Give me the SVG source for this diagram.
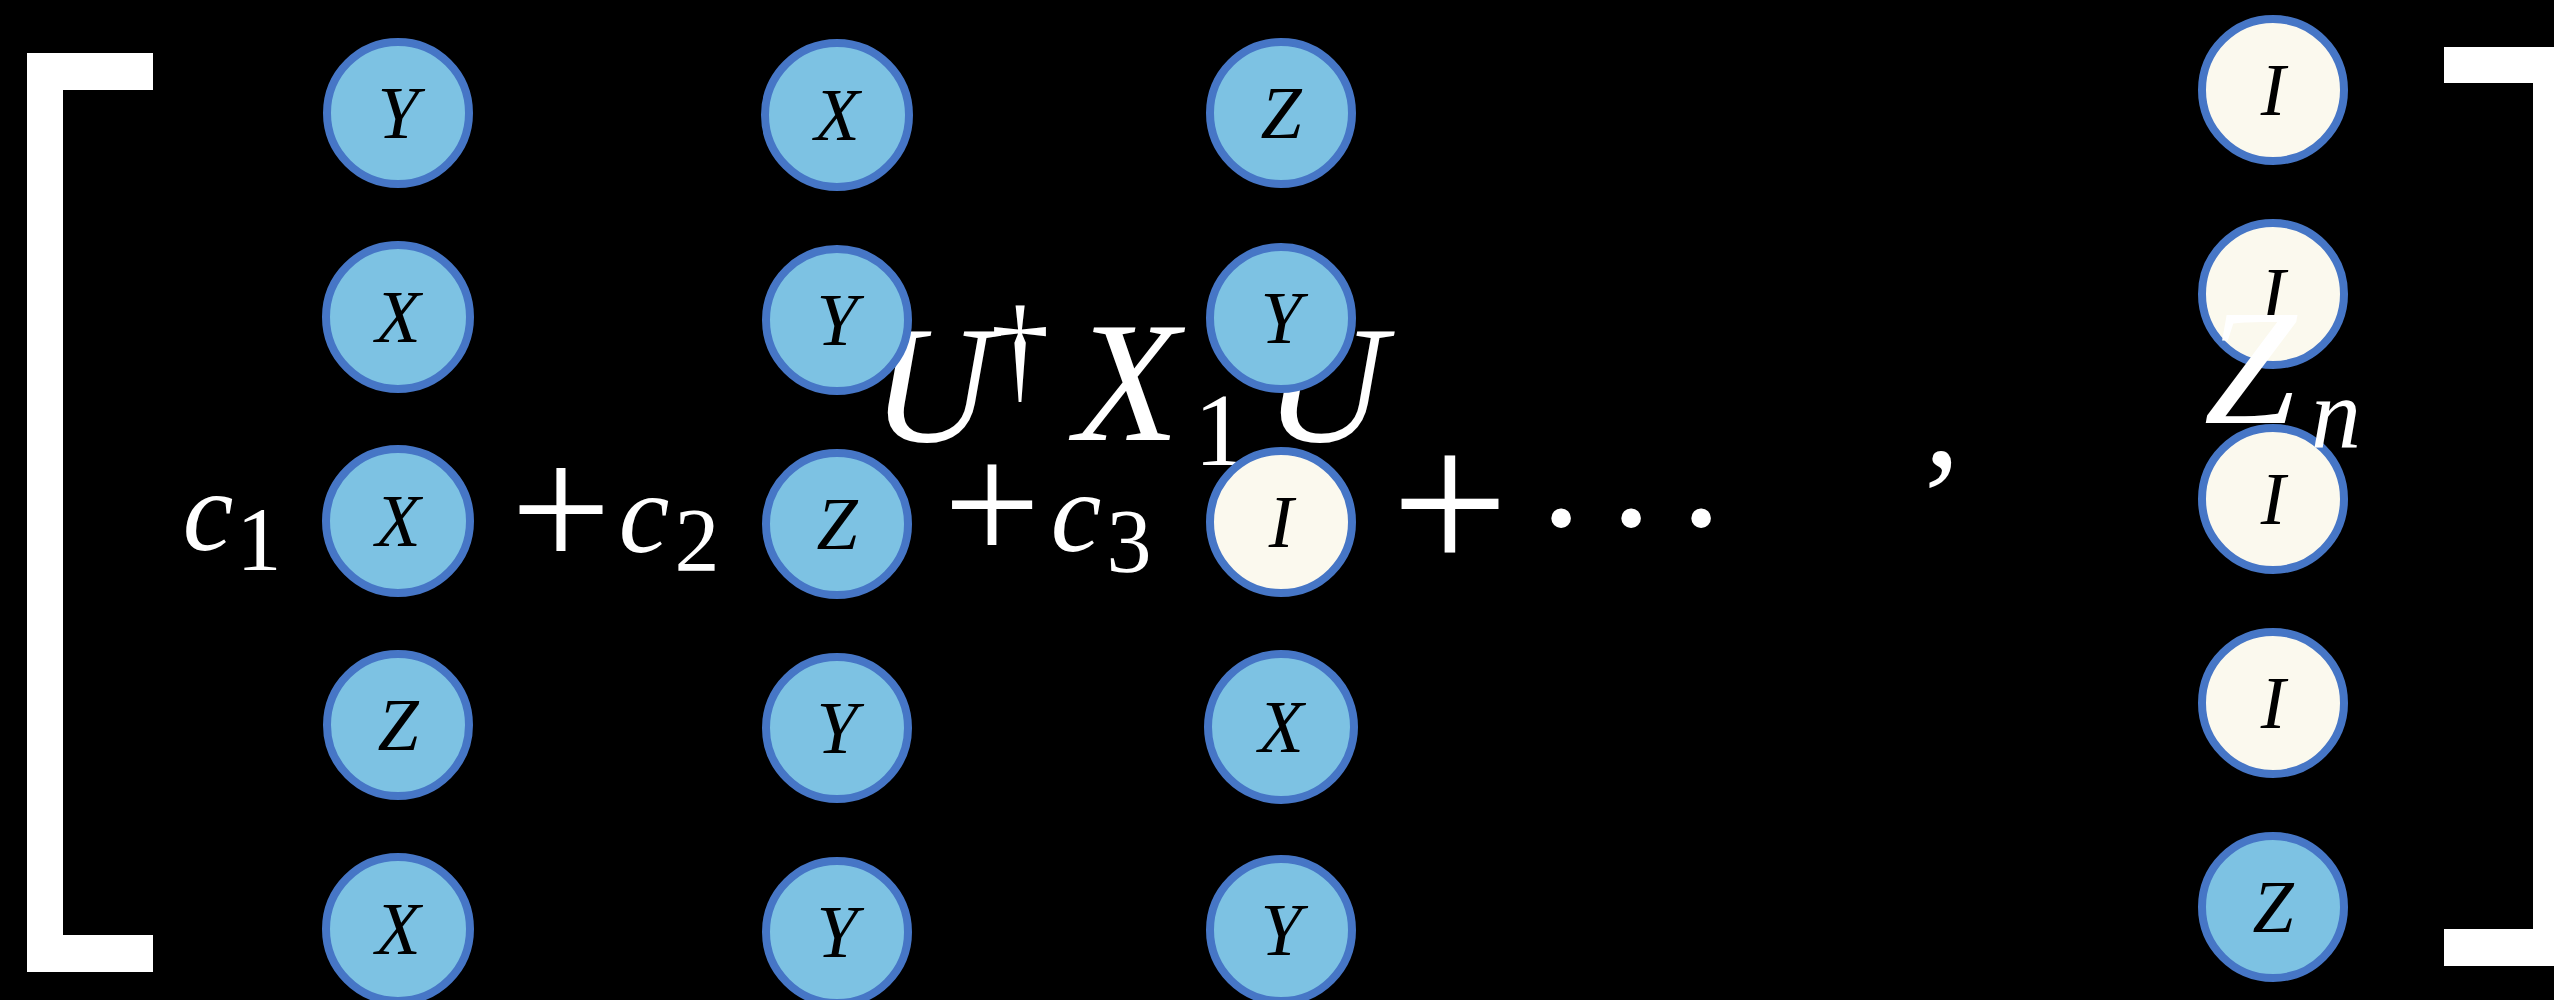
<svg xmlns="http://www.w3.org/2000/svg" width="2554" height="1000" viewBox="0 0 2554 1000">
<style>
.bg{fill:#000}
.br{fill:#fff}
.nb{fill:#7dc2e3;stroke:#4676c6;stroke-width:8}
.nc{fill:#fbf9ee;stroke:#4676c6;stroke-width:8}
.f{font-family:"Liberation Serif","DejaVu Serif",serif}
.lb{font-style:italic;font-size:74px;fill:#000;text-anchor:middle}
.m{fill:#fff;text-anchor:middle}
.it{font-style:italic}
</style>
<rect class="bg" x="0" y="0" width="2554" height="1000"/>
<g id="brackets">
<path class="br" d="M27,53 H153 V90 H63 V935 H153 V972 H27 Z"/>
<path class="br" d="M2444,47 H2570 V966 H2444 V929 H2533 V83 H2444 Z"/>
</g>
<g id="expr-u" class="f">
<text class="m it" x="932" y="441" font-size="168">U</text>
<text class="m" x="1020" y="388" font-size="118">†</text>
<text class="m it" x="1127" y="440" font-size="172">X</text>
<text class="m" x="1220" y="465" font-size="104">1</text>
<text class="m it" x="1325" y="441" font-size="168">U</text>
</g>
<g class="f">
<g id="n1-1"><circle class="nb" cx="398" cy="113" r="71"/><text class="lb" x="398" y="138">Y</text></g>
<g id="n1-2"><circle class="nb" cx="398" cy="317" r="72"/><text class="lb" x="398" y="342">X</text></g>
<g id="n1-3"><circle class="nb" cx="398" cy="521" r="72"/><text class="lb" x="398" y="546">X</text></g>
<g id="n1-4"><circle class="nb" cx="398" cy="725" r="71"/><text class="lb" x="398" y="750">Z</text></g>
<g id="n1-5"><circle class="nb" cx="398" cy="929" r="72"/><text class="lb" x="398" y="954">X</text></g>
<g id="n2-1"><circle class="nb" cx="837" cy="115" r="72"/><text class="lb" x="837" y="140">X</text></g>
<g id="n2-2"><circle class="nb" cx="837" cy="320" r="71"/><text class="lb" x="837" y="345">Y</text></g>
<g id="n2-3"><circle class="nb" cx="837" cy="524" r="71"/><text class="lb" x="837" y="549">Z</text></g>
<g id="n2-4"><circle class="nb" cx="837" cy="728" r="71"/><text class="lb" x="837" y="753">Y</text></g>
<g id="n2-5"><circle class="nb" cx="837" cy="932" r="71"/><text class="lb" x="837" y="957">Y</text></g>
<g id="n3-1"><circle class="nb" cx="1281" cy="113" r="71"/><text class="lb" x="1281" y="138">Z</text></g>
<g id="n3-2"><circle class="nb" cx="1281" cy="318" r="71"/><text class="lb" x="1281" y="343">Y</text></g>
<g id="n3-3"><circle class="nc" cx="1281" cy="522" r="71"/><text class="lb" x="1281" y="547">I</text></g>
<g id="n3-4"><circle class="nb" cx="1281" cy="727" r="73"/><text class="lb" x="1281" y="752">X</text></g>
<g id="n3-5"><circle class="nb" cx="1281" cy="930" r="71"/><text class="lb" x="1281" y="955">Y</text></g>
<g id="n4-1"><circle class="nc" cx="2273" cy="90" r="71"/><text class="lb" x="2273" y="115">I</text></g>
<g id="n4-2"><circle class="nc" cx="2273" cy="294" r="71"/><text class="lb" x="2273" y="319">I</text></g>
<g id="n4-3"><circle class="nc" cx="2273" cy="499" r="71"/><text class="lb" x="2273" y="524">I</text></g>
<g id="n4-4"><circle class="nc" cx="2273" cy="703" r="71"/><text class="lb" x="2273" y="728">I</text></g>
<g id="n4-5"><circle class="nb" cx="2273" cy="907" r="71"/><text class="lb" x="2273" y="932">Z</text></g>
</g>
<g id="sum" class="f">
<text class="m it" x="208" y="550" font-size="114">c</text>
<text class="m" x="259" y="570" font-size="90">1</text>
<text class="m" x="561" y="569" font-size="178">+</text>
<text class="m it" x="644" y="552" font-size="114">c</text>
<text class="m" x="697" y="571" font-size="90">2</text>
<text class="m" x="992" y="562" font-size="172">+</text>
<text class="m it" x="1076" y="551" font-size="114">c</text>
<text class="m" x="1129" y="572" font-size="90">3</text>
<text class="m" x="1450" y="573" font-size="208">+</text>
<text class="m" x="1561 1631 1701" y="526" font-size="165">...</text>
<text class="m" x="1942" y="466" font-size="145">,</text>
</g>
<g id="expr-z" class="f">
<text class="m it" x="2250" y="423" font-size="166">Z</text>
<text class="m it" x="2336" y="447" font-size="100">n</text>
</g>
</svg>
